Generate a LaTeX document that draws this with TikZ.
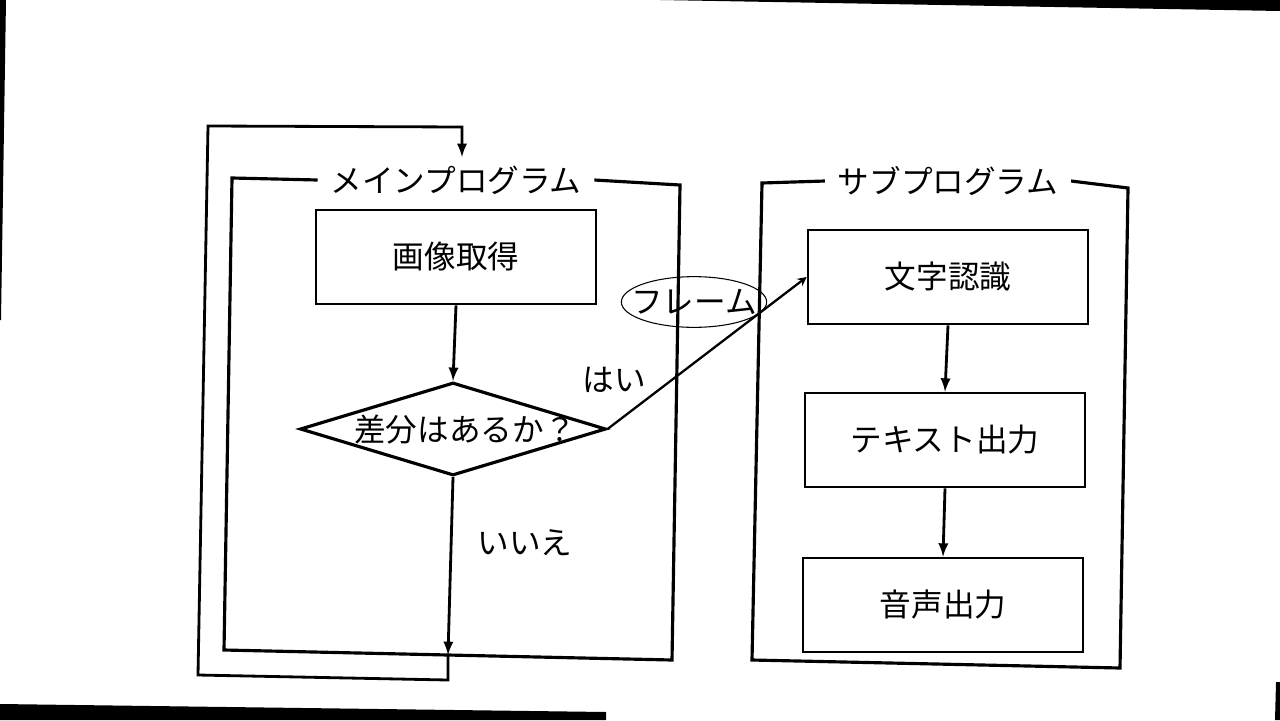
\documentclass[tikz,border=0pt]{standalone}
\usepackage{fontspec}
\newfontfamily\jp{Noto Sans CJK JP}
\usetikzlibrary{arrows,shapes.geometric}

\begin{document}
\begin{tikzpicture}[x=0.02cm,y=-0.02cm,
   wire/.style={line width=1.6pt},
   frame/.style={line width=1.8pt},
   jtext/.style={font=\jp\fontsize{18}{22}\selectfont},
   procbox/.style={draw,line width=1.5pt,minimum width=5.6cm,minimum height=1.88cm,inner sep=0pt,jtext},
   ttl/.style={jtext,inner sep=0.25cm}]
   \useasboundingbox (   0,   0) rectangle (1280, 720);
 %
   \fill (   0,   0) -- (   6,   0) -- (   1, 320) -- (   0, 320) -- cycle;
   \fill ( 660,   0) -- (1280,   0) -- (1280,  11) -- cycle;
   \fill (   0, 704) -- ( 606, 712) -- ( 606, 720) -- (   0, 720) -- cycle;
   \fill (1276, 682) -- (1280, 682) -- (1280, 720) -- (1275, 720) -- cycle;
 %
   \node[ttl] (mainttl) at ( 456, 180) {メインプログラム};
   \node[ttl] (subttl)  at ( 948, 181) {サブプログラム};
   \draw[frame] (mainttl.west) -- ( 232, 178) -- ( 224, 650) --
    ( 672, 660) -- ( 680, 185) -- (mainttl.east);
   \draw[frame] (subttl.west) -- ( 762, 183) -- ( 752, 660) --
    (1120, 668) -- (1128, 188) -- (subttl.east);
 %
   \node[procbox] (cap)   at ( 456, 257) {画像取得};
   \node[draw,diamond,line width=1.8pt,minimum width=6.12cm,minimum height=1.86cm,inner sep=0pt]
      (diff) at ( 453, 429) {};
   \node[jtext] (diffl) at ( 465, 430) {差分はあるか？};
   \node[procbox] (rec)   at ( 948, 277) {文字認識};
   \node[procbox] (txt)   at ( 945, 440) {テキスト出力};
   \node[procbox] (voice) at ( 943, 605) {音声出力};
 %
   \node[jtext] (yes) at ( 614, 380) {はい};
   \node[jtext] (no)  at ( 525, 543) {いいえ};
 %
   \coordinate (merge)   at ( 448, 655);
   \coordinate (loopend) at ( 462, 157);
   \draw[wire,-latex] (cap.south) -- (diff.north);
   \draw[wire,-latex] (diff.south) -- (merge);
   \draw[wire,-latex] (merge) -- ( 448, 680) -- ( 198, 675) --
    ( 208, 126) -- ( 462, 127) -- (loopend);
   \draw[line width=1.3pt,-stealth] (diff.east) -- (rec.west);
   \draw[wire,-latex] (rec.south) -- (txt.north);
   \draw[wire,-latex] (txt.south) -- (voice.north);
 %
   \node[draw,ellipse,line width=0.6pt,inner xsep=-6.5pt,inner ysep=3pt,jtext]
      (frm) at ( 694, 302) {フレーム};
\end{tikzpicture}
\end{document}
